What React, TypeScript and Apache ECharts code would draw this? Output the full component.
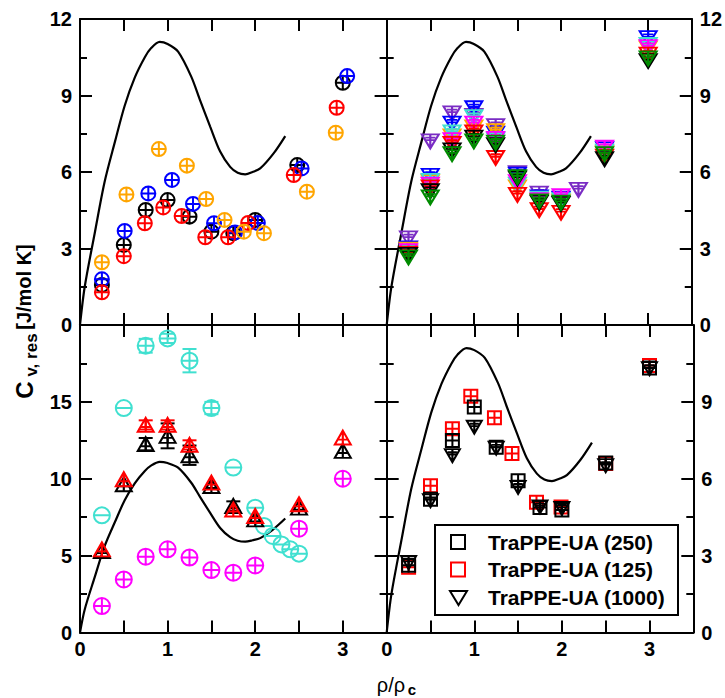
import React, { useEffect, useRef } from 'react';
import * as echarts from 'echarts';

// ---------- reference curve (same in all four panels) ----------
const curveX = [0, 0.054, 0.168, 0.28, 0.4, 0.51, 0.625, 0.74, 0.81, 0.91, 1.0, 1.12, 1.27, 1.37, 1.486, 1.6, 1.714, 1.8, 1.886, 1.97, 2.057, 2.21, 2.343];
const curveY = [0, 1.5, 3.6, 5.6, 7.2, 8.6, 9.7, 10.5, 10.85, 11.1, 11.02, 10.72, 9.74, 8.82, 7.78, 6.8, 6.2, 5.97, 5.91, 6.0, 6.14, 6.73, 7.41];

// ---------- top-left panel ----------
const tlBlackX = [0.25, 0.5, 0.75, 1.0, 1.25, 1.5, 1.75, 2.0, 2.48, 3.0];
const tlBlack = [1.57, 3.14, 4.51, 4.9, 4.25, 3.66, 3.6, 4.12, 6.27, 9.5];
const tlBlueX = [0.25, 0.51, 0.78, 1.05, 1.29, 1.53, 1.77, 2.03, 2.53, 3.05];
const tlBlue = [1.79, 3.69, 5.16, 5.69, 4.75, 3.99, 3.63, 4.0, 6.14, 9.76];
const tlRedX = [0.25, 0.5, 0.74, 0.95, 1.16, 1.43, 1.69, 1.92, 2.44, 2.93];
const tlRed = [1.28, 2.7, 3.99, 4.61, 4.27, 3.44, 3.44, 4.0, 5.88, 8.52];
const tlOrangeX = [0.25, 0.53, 0.9, 1.22, 1.44, 1.65, 1.87, 2.1, 2.59, 2.92];
const tlOrange = [2.46, 5.12, 6.9, 6.25, 4.94, 4.12, 3.66, 3.6, 5.23, 7.54];

// ---------- top-right panel ----------
const trX = [0.25, 0.5, 0.75, 1.0, 1.25, 1.5, 1.75, 2.0, 2.5, 3.0];
const trPurpleX = [0.25, 0.5, 0.75, 1.0, 1.25, 1.5, 1.75, 2.2];
const trPurple = [3.4, 7.2, 8.3, 8.2, 7.8, 5.95, 5.15, 5.3];
const trBlue = [3.0, 5.85, 7.9, 8.5, 7.5, 5.9, 5.0, 4.95, 6.9, 11.25];
const trOrange = [2.95, 5.6, 7.4, 7.75, 7.6, 5.4, 4.85, 4.85, 6.75, 10.85];
const trTurquoise = [2.85, 5.65, 7.55, 8.15, 7.25, 5.5, 4.95, 4.9, 6.8, 10.98];
const trMagenta = [2.9, 5.5, 7.25, 7.9, 7.3, 5.6, 4.9, 5.05, 6.95, 10.9];
const trRed = [2.8, 5.4, 7.1, 7.55, 6.55, 5.1, 4.5, 4.4, 6.6, 10.6];
const trBlack = [2.75, 5.25, 6.85, 7.35, 7.05, 5.75, 4.8, 4.75, 6.5, 10.35];
const trGreen = [2.65, 5.0, 6.7, 7.2, 7.15, 5.8, 4.85, 4.8, 6.7, 10.45];

// ---------- bottom-left panel ----------
const blCyanX = [0.25, 0.5, 0.75, 1.0, 1.25, 1.5, 1.75, 2.0, 2.1, 2.2, 2.3, 2.4, 2.5];
const blCyan = [7.62, 14.6, 18.65, 19.13, 17.68, 14.6, 10.73, 8.12, 6.93, 6.28, 5.73, 5.41, 5.13];
const blCyanErr = [0, 0, 0.45, 0.3, 0.76, 0.4, 0, 0, 0, 0, 0, 0, 0];
const blX = [0.25, 0.5, 0.75, 1.0, 1.25, 1.5, 1.75, 2.0, 2.5, 3.0];
const blMagenta = [1.72, 3.45, 4.93, 5.41, 4.87, 4.06, 3.89, 4.36, 6.75, 10.0];
const blBlackTri = [5.3, 9.64, 12.25, 12.79, 11.53, 9.53, 8.23, 7.36, 8.12, 11.81];
const blBlackTriErr = [0, 0, 0.4, 0.81, 0.63, 0, 0.3, 0, 0, 0];
const blRedTri = [5.41, 9.97, 13.5, 13.5, 12.2, 9.75, 8.0, 7.58, 8.34, 12.68];
const blRedTriErr = [0, 0, 0.3, 0.3, 0.3, 0, 0, 0, 0, 0];

// ---------- bottom-right panel ----------
const brX = [0.25, 0.5, 0.75, 1.0, 1.25, 1.5, 1.75, 2.0, 2.5, 3.0];
const brRedSqX = [0.25, 0.5, 0.75, 0.96, 1.23, 1.43, 1.71, 1.99, 2.5, 3.0];
const brRedSq = [2.55, 5.73, 7.95, 9.22, 8.38, 6.99, 5.08, 4.9, 6.6, 10.42];
const brBlackSq = [2.62, 5.2, 7.49, 8.8, 7.23, 5.92, 4.88, 4.78, 6.61, 10.32];
const brBlackTri = [2.73, 5.14, 6.9, 8.01, 7.19, 5.66, 4.9, 4.84, 6.51, 10.3];

const legendNames = ['TraPPE-UA (250)', 'TraPPE-UA (125)', 'TraPPE-UA (1000)'];
const xTicks = [0, 1, 2, 3];

const FONT = '"Liberation Sans", Arial, Helvetica, sans-serif';
const C = {
  black: '#000000', blue: '#0000ff', red: '#ff0000', orange: '#ffa500',
  turq: '#40e0d0', magenta: '#ff00ff', green: '#008b00', purple: '#7a2cc4',
};

const SYM_CIRCLE_PLUS = 'path://M1,10A9,9,0,1,1,19,10A9,9,0,1,1,1,10ZM1,10L19,10M10,1L10,19';
const SYM_CIRCLE_BAR = 'path://M1,10A9,9,0,1,1,19,10A9,9,0,1,1,1,10ZM1,10L19,10';
const SYM_TRI_DOWN = 'path://M0,0L20,0L10,17ZM10,0L10,17M4,4L16,4M5,7L15,7';
const SYM_TRI_UP = 'path://M10,0L20,17L0,17ZM10,0L10,17M4,11L16,11';
const SYM_SQUARE = 'path://M0,0L20,0L20,20L0,20ZM10,0L10,20M0,10L20,10';

function xAxes(grid: number, showLabel: boolean) {
  const base: any = {
    gridIndex: grid, type: 'value', min: 0, max: 3.5, interval: 0.5,
    axisLine: { show: true, onZero: false, lineStyle: { color: '#000', width: 2 } },
    axisTick: { show: true, inside: true, length: 12, lineStyle: { color: '#000', width: 2 } },
    splitLine: { show: false },
  };
  return [
    {
      ...base, position: 'bottom',
      axisLabel: {
        show: showLabel, fontSize: 20, fontWeight: 'bold', color: '#000', fontFamily: FONT, margin: 6,
        formatter: (v: number) => (xTicks.indexOf(v) >= 0 ? String(v) : ''),
      },
    },
    { ...base, position: 'top', axisLabel: { show: false } },
  ];
}

function yAxes(grid: number, max: number, interval: number, labelSide: 'left' | 'right', hideMax: boolean) {
  const mk = (pos: 'left' | 'right') => ({
    gridIndex: grid, type: 'value', min: 0, max, interval, position: pos,
    axisLine: { show: true, onZero: false, lineStyle: { color: '#000', width: 2 } },
    axisTick: { show: true, inside: true, length: 12, lineStyle: { color: '#000', width: 2 } },
    minorTick: { show: true, splitNumber: 2, length: 7, lineStyle: { color: '#000', width: 2 } },
    splitLine: { show: false },
    minorSplitLine: { show: false },
    axisLabel: {
      show: pos === labelSide, fontSize: 20, fontWeight: 'bold', color: '#000', fontFamily: FONT, margin: 8,
      formatter: (v: number) => (hideMax && v === max ? '' : String(v)),
    },
  });
  return [mk('left'), mk('right')];
}

function pts(xs: number[], ys: number[]) {
  return xs.map((x, i) => [x, ys[i]]);
}

function scatter(grid: number, xs: number[], ys: number[], symbol: string, size: any, color: string, name?: string) {
  return {
    type: 'scatter', name, xAxisIndex: 2 * grid, yAxisIndex: 2 * grid,
    data: pts(xs, ys), symbol, symbolSize: size,
    itemStyle: { color: 'rgba(0,0,0,0)', borderColor: color, borderWidth: 2, opacity: 1 },
    emphasis: { disabled: true }, z: 3,
  };
}

function errBars(grid: number, xs: number[], ys: number[], errs: number[], color: string) {
  const data = xs.map((x, i) => [x, ys[i], errs[i]]).filter((d) => d[2] > 0);
  return {
    type: 'custom', xAxisIndex: 2 * grid, yAxisIndex: 2 * grid, z: 3,
    data,
    renderItem: (params: any, api: any) => {
      const x = api.value(0), y = api.value(1), e = api.value(2);
      const p1 = api.coord([x, y + e]);
      const p2 = api.coord([x, y - e]);
      const w = 7;
      const st = { stroke: color, lineWidth: 2 };
      return {
        type: 'group',
        children: [
          { type: 'line', shape: { x1: p1[0], y1: p1[1], x2: p2[0], y2: p2[1] }, style: st },
          { type: 'line', shape: { x1: p1[0] - w, y1: p1[1], x2: p1[0] + w, y2: p1[1] }, style: st },
          { type: 'line', shape: { x1: p2[0] - w, y1: p2[1], x2: p2[0] + w, y2: p2[1] }, style: st },
        ],
      };
    },
  };
}

function curve(grid: number) {
  return {
    type: 'line', xAxisIndex: 2 * grid, yAxisIndex: 2 * grid,
    data: pts(curveX, curveY), smooth: 0.3, showSymbol: false, symbol: 'none',
    lineStyle: { color: '#000', width: 2.2 }, z: 2, emphasis: { disabled: true },
  };
}

export default function App() {
  const ref = useRef<HTMLDivElement>(null);
  useEffect(() => {
    if (!ref.current) return;
    const chart = echarts.init(ref.current, undefined, { renderer: 'svg' });
    const L1 = 80, L2 = 386.7, W = 306.6, T1 = 19, H1 = 306, T2 = 325, H2 = 307.5;
    const triDownSize = [17, 14];
    const triUpSize = [16, 14];
    const option: any = {
      animation: false,
      backgroundColor: '#fff',
      grid: [
        { left: L1, top: T1, width: W, height: H1 },
        { left: L2, top: T1, width: W, height: H1 },
        { left: L1, top: T2, width: W, height: H2 },
        { left: L2, top: T2, width: W, height: H2 },
      ],
      xAxis: [...xAxes(0, false), ...xAxes(1, false), ...xAxes(2, true), ...xAxes(3, true)],
      yAxis: [
        ...yAxes(0, 12, 3, 'left', false),
        ...yAxes(1, 12, 3, 'right', false),
        ...yAxes(2, 20, 5, 'left', true),
        ...yAxes(3, 12, 3, 'right', true),
      ],
      series: [
        curve(0), curve(1), curve(2), curve(3),
        // top-left
        scatter(0, tlBlackX, tlBlack, SYM_CIRCLE_PLUS, 14, C.black),
        scatter(0, tlBlueX, tlBlue, SYM_CIRCLE_PLUS, 14, C.blue),
        scatter(0, tlRedX, tlRed, SYM_CIRCLE_PLUS, 14, C.red),
        scatter(0, tlOrangeX, tlOrange, SYM_CIRCLE_PLUS, 14, C.orange),
        // top-right
        scatter(1, trPurpleX, trPurple, SYM_TRI_DOWN, triDownSize, C.purple),
        scatter(1, trX, trBlue, SYM_TRI_DOWN, triDownSize, C.blue),
        scatter(1, trX, trOrange, SYM_TRI_DOWN, triDownSize, C.orange),
        scatter(1, trX, trTurquoise, SYM_TRI_DOWN, triDownSize, C.turq),
        scatter(1, trX, trMagenta, SYM_TRI_DOWN, triDownSize, C.magenta),
        scatter(1, trX, trRed, SYM_TRI_DOWN, triDownSize, C.red),
        scatter(1, trX, trBlack, SYM_TRI_DOWN, triDownSize, C.black),
        scatter(1, trX, trGreen, SYM_TRI_DOWN, triDownSize, C.green),
        // bottom-left
        scatter(2, blCyanX, blCyan, SYM_CIRCLE_BAR, 16, C.turq),
        errBars(2, blCyanX, blCyan, blCyanErr, C.turq),
        scatter(2, blX, blMagenta, SYM_CIRCLE_PLUS, 16, C.magenta),
        scatter(2, blX, blBlackTri, SYM_TRI_UP, triUpSize, C.black),
        errBars(2, blX, blBlackTri, blBlackTriErr, C.black),
        scatter(2, blX, blRedTri, SYM_TRI_UP, triUpSize, C.red),
        errBars(2, blX, blRedTri, blRedTriErr, C.red),
        // bottom-right
        scatter(3, brRedSqX, brRedSq, SYM_SQUARE, 13, C.red, legendNames[1]),
        scatter(3, brX, brBlackSq, SYM_SQUARE, 13, C.black, legendNames[0]),
        scatter(3, brX, brBlackTri, SYM_TRI_DOWN, [15, 13], C.black, legendNames[2]),
      ],
      graphic: [
        // y-axis title
        { type: 'text', x: 24, y: 390, rotation: Math.PI / 2, z: 50,
          style: { text: 'C', font: `bold 24px ${FONT}`, fill: '#000', align: 'center', verticalAlign: 'middle' } },
        { type: 'text', x: 31, y: 355, rotation: Math.PI / 2, z: 50,
          style: { text: 'v, res', font: `bold 17px ${FONT}`, fill: '#000', align: 'center', verticalAlign: 'middle' } },
        { type: 'text', x: 24, y: 287, rotation: Math.PI / 2, z: 50,
          style: { text: '[J/mol K]', font: `bold 20px ${FONT}`, fill: '#000', align: 'center', verticalAlign: 'middle' } },
        // x-axis title
        { type: 'text', x: 391, y: 685, z: 50,
          style: { text: 'ρ/ρ', font: `20px ${FONT}`, fill: '#000', align: 'center', verticalAlign: 'middle' } },
        { type: 'text', x: 412, y: 689, z: 50,
          style: { text: 'c', font: `bold 15px ${FONT}`, fill: '#000', align: 'center', verticalAlign: 'middle' } },
        // legend
        { type: 'rect', z: 60, shape: { x: 435, y: 525, width: 243, height: 90 },
          style: { fill: '#fff', stroke: '#000', lineWidth: 2 } },
        { type: 'rect', z: 61, shape: { x: 451, y: 535, width: 14, height: 14 },
          style: { fill: 'none', stroke: C.black, lineWidth: 2 } },
        { type: 'rect', z: 61, shape: { x: 451, y: 562.5, width: 14, height: 14 },
          style: { fill: 'none', stroke: C.red, lineWidth: 2 } },
        { type: 'polygon', z: 61, shape: { points: [[450, 591], [467, 591], [458.5, 605]] },
          style: { fill: 'none', stroke: C.black, lineWidth: 2 } },
        { type: 'text', z: 61, x: 488, y: 542,
          style: { text: legendNames[0], font: `bold 21px ${FONT}`, fill: '#000', verticalAlign: 'middle' } },
        { type: 'text', z: 61, x: 488, y: 569.5,
          style: { text: legendNames[1], font: `bold 21px ${FONT}`, fill: '#000', verticalAlign: 'middle' } },
        { type: 'text', z: 61, x: 488, y: 597,
          style: { text: legendNames[2], font: `bold 21px ${FONT}`, fill: '#000', verticalAlign: 'middle' } },
      ],
    };
    chart.setOption(option);
    return () => chart.dispose();
  }, []);
  return (
    <div
      ref={ref}
      style={{ position: 'absolute', left: 0, top: 0, width: 725, height: 698, background: '#fff' }}
    />
  );
}
